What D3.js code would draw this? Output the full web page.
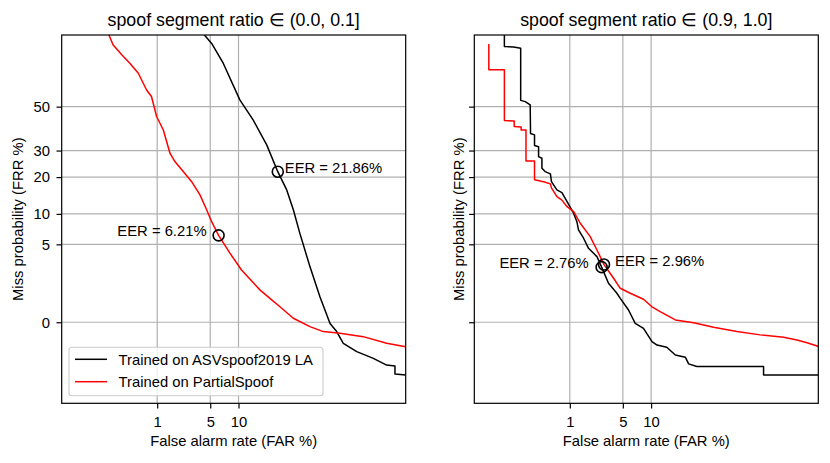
<!DOCTYPE html>
<html>
<head>
<meta charset="utf-8">
<script src="https://cdn.jsdelivr.net/npm/d3@7"></script>
<style>
  body { margin: 0; background: #fff; }
  svg text { font-family: "Liberation Sans", Arial, Helvetica, sans-serif; fill: #000; }
</style>
</head>
<body>
<div id="chart"></div>
<script>
/* DET curves, two panels, probit axes */

// axis limits and ticks (percent)
const xLim = [0.019, 80.7];
const yLim = [0.0197, 80.4];
const xTicks = [1, 5, 10];
const xTickLabels = ['1', '5', '10'];
const yTicks = [0.5, 5, 10, 20, 30, 50];
const yTickLabels = ['0', '5', '10', '20', '30', '50'];

const titles = ['spoof segment ratio \u2208 (0.0, 0.1]', 'spoof segment ratio \u2208 (0.9, 1.0]'];
const seriesNames = ['Trained on ASVspoof2019 LA', 'Trained on PartialSpoof'];

// [FAR %, FRR %]
const lowRatioLA = [[3.75, 82], [4.25, 80.5], [5.19, 77.5], [6.97, 69.8], [10.3, 53.2], [13.7, 43.7], [17.9, 32.4],
  [21.86, 21.86], [25.4, 16.0], [28.2, 10.9], [31.1, 6.5], [35.8, 2.8], [40.7, 1.16], [45.8, 0.48], [49.2, 0.36],
  [52.6, 0.235], [59.4, 0.171], [67.4, 0.132], [73.3, 0.101], [76.7, 0.097], [76.7, 0.070], [80.7, 0.067]];
const lowRatioPS = [[0.147, 82], [0.16, 80.5], [0.19, 77.0], [0.27, 73.2], [0.37, 69.8], [0.51, 65.5], [0.69, 57.9],
  [0.82, 54.8], [0.98, 45.3], [1.23, 39.0], [1.53, 28.9], [1.79, 25.6], [2.32, 21.9], [2.98, 18.5], [3.78, 14.6],
  [4.54, 10.9], [5.19, 8.47], [6.21, 6.21], [8.2, 4.0], [10.7, 2.55], [15.7, 1.43], [19.0, 1.10], [22.7, 0.84],
  [28.2, 0.574], [35.8, 0.43], [42.4, 0.36], [50.9, 0.34], [62.6, 0.30], [73.3, 0.235], [80.7, 0.207]];
const highRatioLA = [[0.077, 82], [0.077, 76.4], [0.115, 76.2], [0.155, 75.7], [0.155, 53.0], [0.187, 52.4],
  [0.229, 50.8], [0.232, 37.4], [0.272, 36.8], [0.272, 32.1], [0.319, 31.6], [0.319, 27.5], [0.363, 26.9],
  [0.363, 23.1], [0.41, 21.9], [0.50, 21.1], [0.52, 18.5], [0.635, 16.0], [0.76, 15.2], [0.91, 12.8], [1.14, 10.1],
  [1.27, 8.47], [1.34, 7.04], [1.58, 5.80], [1.85, 4.53], [2.40, 3.66], [2.76, 2.76], [3.37, 1.74], [4.26, 1.29],
  [4.67, 1.10], [5.80, 0.757], [6.87, 0.48], [8.39, 0.405], [10.2, 0.25], [11.4, 0.22], [14.0, 0.202], [16.6, 0.150],
  [20.0, 0.138], [21.2, 0.106], [24.4, 0.095], [56.5, 0.095], [56.5, 0.067], [80.8, 0.067]];
const highRatioPS = [[0.038, 77.3], [0.038, 67.0], [0.077, 67.0], [0.077, 43.4], [0.118, 43.2], [0.118, 40.6],
  [0.158, 40.4], [0.158, 39.0], [0.193, 39.0], [0.193, 25.8], [0.272, 25.8], [0.272, 19.1], [0.386, 18.5],
  [0.50, 17.8], [0.52, 16.6], [0.635, 14.1], [0.76, 13.2], [0.91, 11.6], [1.14, 10.5], [1.42, 8.18], [1.95, 6.02],
  [2.40, 4.34], [2.96, 2.96], [3.89, 2.02], [4.67, 1.50], [6.06, 1.29], [8.39, 1.07], [10.2, 0.84], [12.2, 0.716],
  [16.6, 0.541], [23.1, 0.493], [31.6, 0.42], [42.9, 0.36], [54.8, 0.32], [66.3, 0.293], [72.3, 0.266],
  [76.5, 0.24], [80.8, 0.208]];

const eerLow = [21.86, 6.21];
const eerHigh = [2.76, 2.96];

const colors = ['#000000', '#ff0000'];

// inverse normal cdf (Acklam)
function probit(p) {
  const a = [-3.969683028665376e+01, 2.209460984245205e+02, -2.759285104469687e+02, 1.383577518672690e+02, -3.066479806614716e+01, 2.506628277459239e+00];
  const b = [-5.447609879822406e+01, 1.615858368580409e+02, -1.556989798598866e+02, 6.680131188771972e+01, -1.328068155288572e+01];
  const c = [-7.784894002430293e-03, -3.223964580411365e-01, -2.400758277161838e+00, -2.549671010229528e+00, 4.374664141464968e+00, 2.938163982698783e+00];
  const d = [7.784695709041462e-03, 3.224671290700398e-01, 2.445134137142996e+00, 3.754408661907416e+00];
  const pl = 0.02425;
  if (p < pl) {
    const q = Math.sqrt(-2 * Math.log(p));
    return (((((c[0] * q + c[1]) * q + c[2]) * q + c[3]) * q + c[4]) * q + c[5]) / ((((d[0] * q + d[1]) * q + d[2]) * q + d[3]) * q + 1);
  }
  if (p > 1 - pl) {
    const q = Math.sqrt(-2 * Math.log(1 - p));
    return -(((((c[0] * q + c[1]) * q + c[2]) * q + c[3]) * q + c[4]) * q + c[5]) / ((((d[0] * q + d[1]) * q + d[2]) * q + d[3]) * q + 1);
  }
  const q = p - 0.5, r = q * q;
  return (((((a[0] * r + a[1]) * r + a[2]) * r + a[3]) * r + a[4]) * r + a[5]) * q / (((((b[0] * r + b[1]) * r + b[2]) * r + b[3]) * r + b[4]) * r + 1);
}
const pz = v => probit(v / 100);

const W = 830, H = 463;
const plotTop = 35, plotBottom = 403.3;
const FS = 14.8;

const panels = [
  { left: 61.7, right: 405.7, title: titles[0], series: [lowRatioLA, lowRatioPS], eer: eerLow,
    notes: [{ dx: 7, anchor: 'start' }, { dx: -12, anchor: 'end' }], yLabels: true, legend: true, ylabX: 23 },
  { left: 474.3, right: 818.3, title: titles[1], series: [highRatioLA, highRatioPS], eer: eerHigh,
    notes: [{ dx: -13, anchor: 'end' }, { dx: 11, anchor: 'start' }], yLabels: false, legend: false, ylabX: 464 }
];

const svg = d3.select('#chart').append('svg')
  .attr('width', W)
  .attr('height', H);

panels.forEach((p, pi) => drawPanel(p, pi));

function drawPanel(p, pi) {
  const x = d3.scaleLinear().domain([pz(xLim[0]), pz(xLim[1])]).range([p.left, p.right]);
  const y = d3.scaleLinear().domain([pz(yLim[0]), pz(yLim[1])]).range([plotBottom, plotTop]);
  const g = svg.append('g');

  // grid
  g.append('g').selectAll('line')
    .data(xTicks)
    .join('line')
    .attr('x1', d => x(pz(d))).attr('x2', d => x(pz(d)))
    .attr('y1', plotTop).attr('y2', plotBottom)
    .attr('stroke', '#b0b0b0').attr('stroke-width', 1.2);
  g.append('g').selectAll('line')
    .data(yTicks)
    .join('line')
    .attr('y1', d => y(pz(d))).attr('y2', d => y(pz(d)))
    .attr('x1', p.left).attr('x2', p.right)
    .attr('stroke', '#b0b0b0').attr('stroke-width', 1.2);

  // curves
  const clipId = 'clip' + pi;
  svg.append('clipPath').attr('id', clipId)
    .append('rect')
    .attr('x', p.left).attr('y', plotTop)
    .attr('width', p.right - p.left).attr('height', plotBottom - plotTop);

  const line = d3.line()
    .x(d => x(pz(d[0])))
    .y(d => y(pz(d[1])));

  g.append('g').attr('clip-path', `url(#${clipId})`)
    .selectAll('path')
    .data(p.series)
    .join('path')
    .attr('d', line)
    .attr('fill', 'none')
    .attr('stroke', (d, i) => colors[i])
    .attr('stroke-width', 1.5)
    .attr('stroke-linejoin', 'round');

  // EER markers
  p.eer.forEach((e, i) => {
    const cx = x(pz(e)), cy = y(pz(e));
    g.append('circle')
      .attr('cx', cx).attr('cy', cy).attr('r', 5.5)
      .attr('fill', 'none').attr('stroke', '#000').attr('stroke-width', 1.6);
    g.append('text')
      .attr('x', cx + p.notes[i].dx).attr('y', cy + 1)
      .attr('text-anchor', p.notes[i].anchor)
      .attr('font-size', FS)
      .text(`EER = ${e.toFixed(2)}%`);
  });

  // axes
  const xAxis = d3.axisBottom(x)
    .tickValues(xTicks.map(pz))
    .tickFormat((d, i) => xTickLabels[i])
    .tickSize(5.2).tickSizeOuter(0).tickPadding(7.5);
  const yAxis = d3.axisLeft(y)
    .tickValues(yTicks.map(pz))
    .tickFormat((d, i) => p.yLabels ? yTickLabels[i] : '')
    .tickSize(5.2).tickSizeOuter(0).tickPadding(6.5);

  const gx = g.append('g').attr('transform', `translate(0,${plotBottom})`).call(xAxis);
  const gy = g.append('g').attr('transform', `translate(${p.left},0)`).call(yAxis);
  [gx, gy].forEach(a => {
    a.select('.domain').remove();
    a.selectAll('line').attr('stroke', '#000').attr('stroke-width', 1.2);
    a.selectAll('text').attr('font-size', FS).attr('font-family', null);
  });

  // frame
  g.append('rect')
    .attr('x', p.left).attr('y', plotTop)
    .attr('width', p.right - p.left).attr('height', plotBottom - plotTop)
    .attr('fill', 'none').attr('stroke', '#000').attr('stroke-width', 1.2);

  // titles & labels
  const cx = (p.left + p.right) / 2;
  g.append('text')
    .attr('x', cx).attr('y', 26)
    .attr('text-anchor', 'middle')
    .attr('font-size', 17.8)
    .text(p.title);
  g.append('text')
    .attr('x', cx).attr('y', 446)
    .attr('text-anchor', 'middle')
    .attr('font-size', FS)
    .text('False alarm rate (FAR %)');
  g.append('text')
    .attr('transform', `translate(${p.ylabX},${(plotTop + plotBottom) / 2}) rotate(-90)`)
    .attr('text-anchor', 'middle')
    .attr('font-size', FS)
    .text('Miss probability (FRR %)');

  if (p.legend) drawLegend(g);
}

function drawLegend(g) {
  const lg = g.append('g');
  lg.append('rect')
    .attr('x', 69).attr('y', 347.3)
    .attr('width', 254).attr('height', 48.4)
    .attr('rx', 3)
    .attr('fill', 'rgba(255,255,255,0.8)')
    .attr('stroke', '#cccccc').attr('stroke-width', 1.1);
  seriesNames.forEach((name, i) => {
    const ly = 359.3 + i * 22.4;
    lg.append('line')
      .attr('x1', 75).attr('x2', 107)
      .attr('y1', ly).attr('y2', ly)
      .attr('stroke', colors[i]).attr('stroke-width', 1.5);
    lg.append('text')
      .attr('x', 118.5).attr('y', ly + 5.2)
      .attr('font-size', FS)
      .text(name);
  });
}
</script>
</body>
</html>
